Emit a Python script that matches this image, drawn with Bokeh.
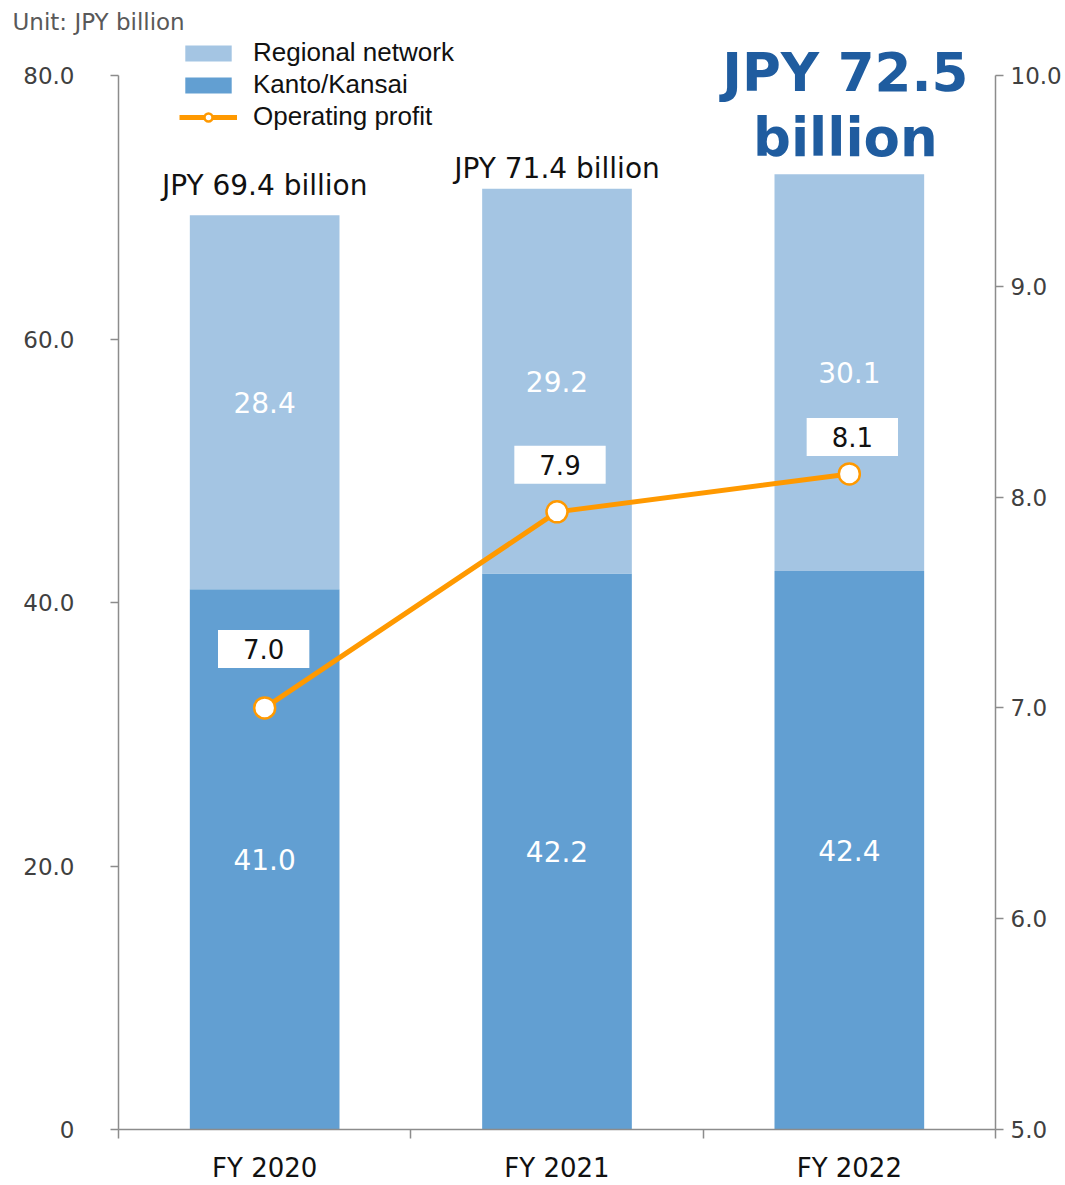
from bokeh.plotting import figure
from bokeh.models import (Range1d, LinearAxis, FixedTicker, Legend, LegendItem,
                          ColumnDataSource)
from bokeh.core.properties import value
from bokeh.embed import file_html
from bokeh.resources import INLINE

# ---------------- data ----------------
years = ["FY 2020", "FY 2021", "FY 2022"]
kanto = [41.0, 42.2, 42.4]
regional = [28.4, 29.2, 30.1]
profit = [7.0, 7.93, 8.11]
profit_labels = ["7.0", "7.9", "8.1"]
left_ticks = [0, 20, 40, 60, 80]
left_tick_labels = ["0", "20.0", "40.0", "60.0", "80.0"]
right_ticks = [5, 6, 7, 8, 9, 10]
right_tick_labels = ["5.0", "6.0", "7.0", "8.0", "9.0", "10.0"]
unit_text = "Unit: JPY billion"

# ---------------- derived ----------------
n = len(years)
xs = [i + 0.5 for i in range(n)]
totals = [round(a + b, 1) for a, b in zip(kanto, regional)]
total_labels = [f"JPY {t:.1f} billion" for t in totals]

LIGHT = "#A4C5E3"
DARK = "#629FD2"
ORANGE = "#FF9900"
BLUE = "#1F5C9F"
AXIS = "#8C8C8C"
TICK_TXT = "#404040"

TOP = 36          # frame top (px)
BOTTOM = 1129     # frame bottom (px)
AXIS_TOP = 75     # where the top tick sits (px)
FH = BOTTOM - TOP
SPAN = BOTTOM - AXIS_TOP

p = figure(width=1065, height=1185,
           x_range=Range1d(0, n),
           y_range=Range1d(0, 80 * FH / SPAN),
           output_backend="svg", toolbar_location=None,
           min_border_left=118, min_border_right=70,
           min_border_top=TOP, min_border_bottom=1185 - BOTTOM)
p.extra_y_ranges = {"right": Range1d(5, 5 + 5 * FH / SPAN)}
p.outline_line_color = None
p.xgrid.visible = False
p.ygrid.visible = False
p.background_fill_color = "white"
p.border_fill_color = "white"

# unit title
p.title.text = unit_text
p.title.align = "left"
p.title.offset = -106
p.title.standoff = 3
p.title.text_font = "DejaVu Sans"
p.title.text_font_size = "23px"
p.title.text_font_style = "normal"
p.title.text_color = "#595959"

# x axis
xa = p.xaxis[0]
xa.ticker = FixedTicker(ticks=xs, minor_ticks=list(range(n + 1)))
xa.major_label_overrides = {x: y for x, y in zip(xs, years)}
xa.major_tick_line_color = None
xa.major_tick_out = 0
xa.major_tick_in = 0
xa.minor_tick_out = 9
xa.minor_tick_in = 0
xa.minor_tick_line_color = AXIS
xa.minor_tick_line_width = 1.5
xa.axis_line_color = AXIS
xa.axis_line_width = 1.5
xa.major_label_text_font = "DejaVu Sans"
xa.major_label_text_font_size = "26px"
xa.major_label_text_color = "#111111"
xa.major_label_standoff = 14

# left axis
ya = p.yaxis[0]
ya.ticker = FixedTicker(ticks=left_ticks, minor_ticks=[])
ya.major_label_overrides = {t: l for t, l in zip(left_ticks, left_tick_labels)}
ya.bounds = (left_ticks[0], left_ticks[-1])

# right axis
ra = LinearAxis(y_range_name="right")
ra.ticker = FixedTicker(ticks=right_ticks, minor_ticks=[])
ra.major_label_overrides = {t: l for t, l in zip(right_ticks, right_tick_labels)}
ra.bounds = (right_ticks[0], right_ticks[-1])
p.add_layout(ra, "right")

for ax, standoff in ((ya, 36), (ra, 7)):
    ax.axis_line_color = AXIS
    ax.axis_line_width = 1.5
    ax.major_tick_line_color = AXIS
    ax.major_tick_line_width = 1.5
    ax.major_tick_out = 8
    ax.major_tick_in = 0
    ax.minor_tick_line_color = None
    ax.major_label_text_font = "DejaVu Sans"
    ax.major_label_text_font_size = "23px"
    ax.major_label_text_color = TICK_TXT
    ax.major_label_standoff = standoff

# ---------------- bars ----------------
src = ColumnDataSource(dict(
    x=xs, kanto=kanto, regional=regional, totals=totals,
    kanto_mid=[k / 2 for k in kanto],
    reg_mid=[k + r / 2 for k, r in zip(kanto, regional)],
    kanto_txt=[f"{k:.1f}" for k in kanto],
    reg_txt=[f"{r:.1f}" for r in regional],
))
bars = p.vbar_stack(["kanto", "regional"], x="x", width=0.512,
                    color=[DARK, LIGHT], line_color=None, source=src)

p.text(x="x", y="kanto_mid", text="kanto_txt", source=src,
       text_font=value("DejaVu Sans"), text_font_size="28px",
       text_color="white", text_align="center", text_baseline="middle")
p.text(x="x", y="reg_mid", text="reg_txt", source=src,
       text_font=value("DejaVu Sans"), text_font_size="28px",
       text_color="white", text_align="center", text_baseline="middle")

# total labels (first two plain, last highlighted)
tot_src = ColumnDataSource(dict(x=xs[:-1], y=totals[:-1], t=total_labels[:-1],
                                dy=[-30, -20]))
p.text(x="x", y="y", text="t", source=tot_src, y_offset="dy",
       text_font=value("DejaVu Sans"), text_font_size="28px",
       text_color="#111111", text_align="center", text_baseline="alphabetic")

big_src = ColumnDataSource(dict(x=xs[-1:], y=totals[-1:],
                                t=[f"JPY {totals[-1]:.1f}\nbillion"]))
p.text(x="x", y="y", text="t", source=big_src, y_offset=-6, x_offset=-4,
       text_font=value("DejaVu Sans"), text_font_size="53px",
       text_font_style="bold", text_line_height=1.07,
       text_color=BLUE, text_align="center", text_baseline="bottom")

# ---------------- operating profit line ----------------
psrc = ColumnDataSource(dict(x=xs, y=profit, lab=profit_labels,
                             dy=[-59, -47, -37], dx=[-1, 3, 3]))
ln = p.line(x="x", y="y", source=psrc, y_range_name="right",
            line_color=ORANGE, line_width=5)
sc = p.scatter(x="x", y="y", source=psrc, y_range_name="right",
               marker="circle", size=21, fill_color="white",
               line_color=ORANGE, line_width=2.5)
p.text(x="x", y="y", text="lab", source=psrc, y_range_name="right",
       y_offset="dy", x_offset="dx",
       text_font=value("DejaVu Sans"), text_font_size="26px",
       text_color="#111111", text_align="center", text_baseline="middle",
       background_fill_color="white",
       padding=dict(left=25, right=25, top=9, bottom=9))

# ---------------- legend ----------------
legend = Legend(items=[
    LegendItem(label="Regional network", renderers=[bars[1]]),
    LegendItem(label="Kanto/Kansai", renderers=[bars[0]]),
    LegendItem(label="Operating profit", renderers=[ln, sc]),
], location=(61, 997))
legend.glyph_width = 58
legend.glyph_height = 20
legend.label_text_font = "Liberation Sans"
legend.label_text_font_size = "26px"
legend.label_text_color = "#111111"
legend.label_standoff = 16
legend.spacing = 1
legend.padding = 0
legend.margin = 0
legend.border_line_color = None
legend.background_fill_alpha = 0
p.add_layout(legend)

open("out.html", "w").write(file_html(p, INLINE))
